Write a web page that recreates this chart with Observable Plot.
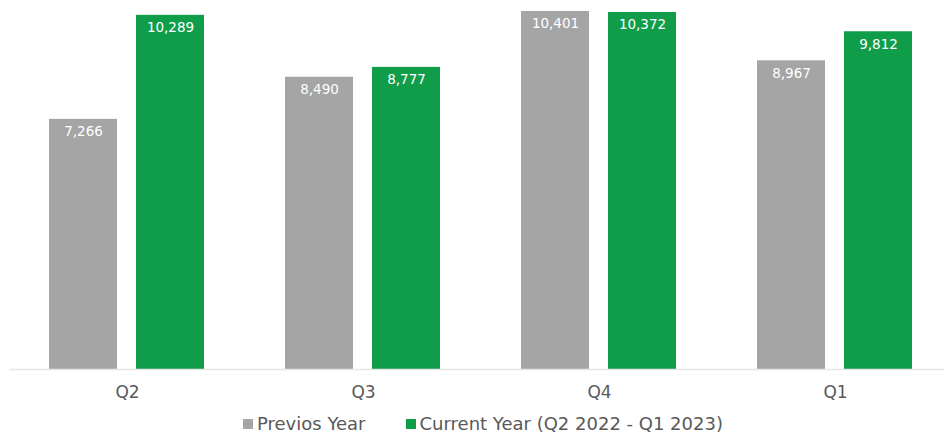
<!DOCTYPE html>
<html>
<head>
<meta charset="utf-8">
<script src="https://cdn.jsdelivr.net/npm/d3@7"></script>
<script src="https://cdn.jsdelivr.net/npm/@observablehq/plot@0.6"></script>
<style>
  html, body { margin: 0; padding: 0; background: #fff; }
  body { width: 944px; height: 433px; overflow: hidden; font-family: "DejaVu Sans", sans-serif; }
  #legend { height: 28px; display: flex; justify-content: flex-start; align-items: center; padding-left: 243px; color: #595959; font-size: 18px; line-height: 28px; }
  .item { display: flex; align-items: center; }
  .sw { width: 10px; height: 10px; margin-right: 4px; }
</style>
</head>
<body>
<div id="chart"></div>
<div id="legend"></div>
<script>
const quarters = ["Q2", "Q3", "Q4", "Q1"];
const previousYear = [7266, 8490, 10401, 8967];
const currentYear = [10289, 8777, 10372, 9812];
const seriesNames = ["Previos Year", "Current Year (Q2 2022 - Q1 2023)"];
const seriesColors = ["#a5a5a5", "#0f9d4a"];

const rows = [];
quarters.forEach((q, i) => {
  rows.push({quarter: q, series: seriesNames[0], value: previousYear[i]});
  rows.push({quarter: q, series: seriesNames[1], value: currentYear[i]});
});

const fmt = d3.format(",");

const chart = Plot.plot({
  width: 944,
  height: 410,
  marginTop: 0,
  marginBottom: 41,
  marginLeft: 8,
  marginRight: -10.8,
  style: {fontFamily: "DejaVu Sans, sans-serif", background: "#fff"},
  fx: {domain: quarters, padding: 0, label: null},
  x: {domain: seriesNames, paddingInner: 0.216, paddingOuter: 0.453, axis: null},
  y: {domain: [0, 10720], axis: null},
  color: {domain: seriesNames, range: seriesColors},
  marks: [
    Plot.barY(rows, {fx: "quarter", x: "series", y: "value", fill: "series"}),
    Plot.ruleY([0], {stroke: "#e6e6e6", strokeWidth: 1.5}),
    Plot.text(rows, {fx: "quarter", x: "series", y: "value", text: d => fmt(d.value), fill: "#fff", dy: 12.5, fontSize: 13.5, lineAnchor: "middle", textAnchor: "middle"}),
    Plot.axisFx({anchor: "bottom", tickSize: 0, tickPadding: 16, fontSize: 17, color: "#595959", label: null})
  ]
});
document.getElementById("chart").appendChild(chart);

const legend = document.getElementById("legend");
seriesNames.forEach((name, i) => {
  const item = document.createElement("div");
  item.className = "item";
  if (i > 0) item.style.marginLeft = "40px";
  const sw = document.createElement("div");
  sw.className = "sw";
  sw.style.background = seriesColors[i];
  const label = document.createElement("span");
  label.textContent = name;
  item.appendChild(sw);
  item.appendChild(label);
  legend.appendChild(item);
});
</script>
</body>
</html>
